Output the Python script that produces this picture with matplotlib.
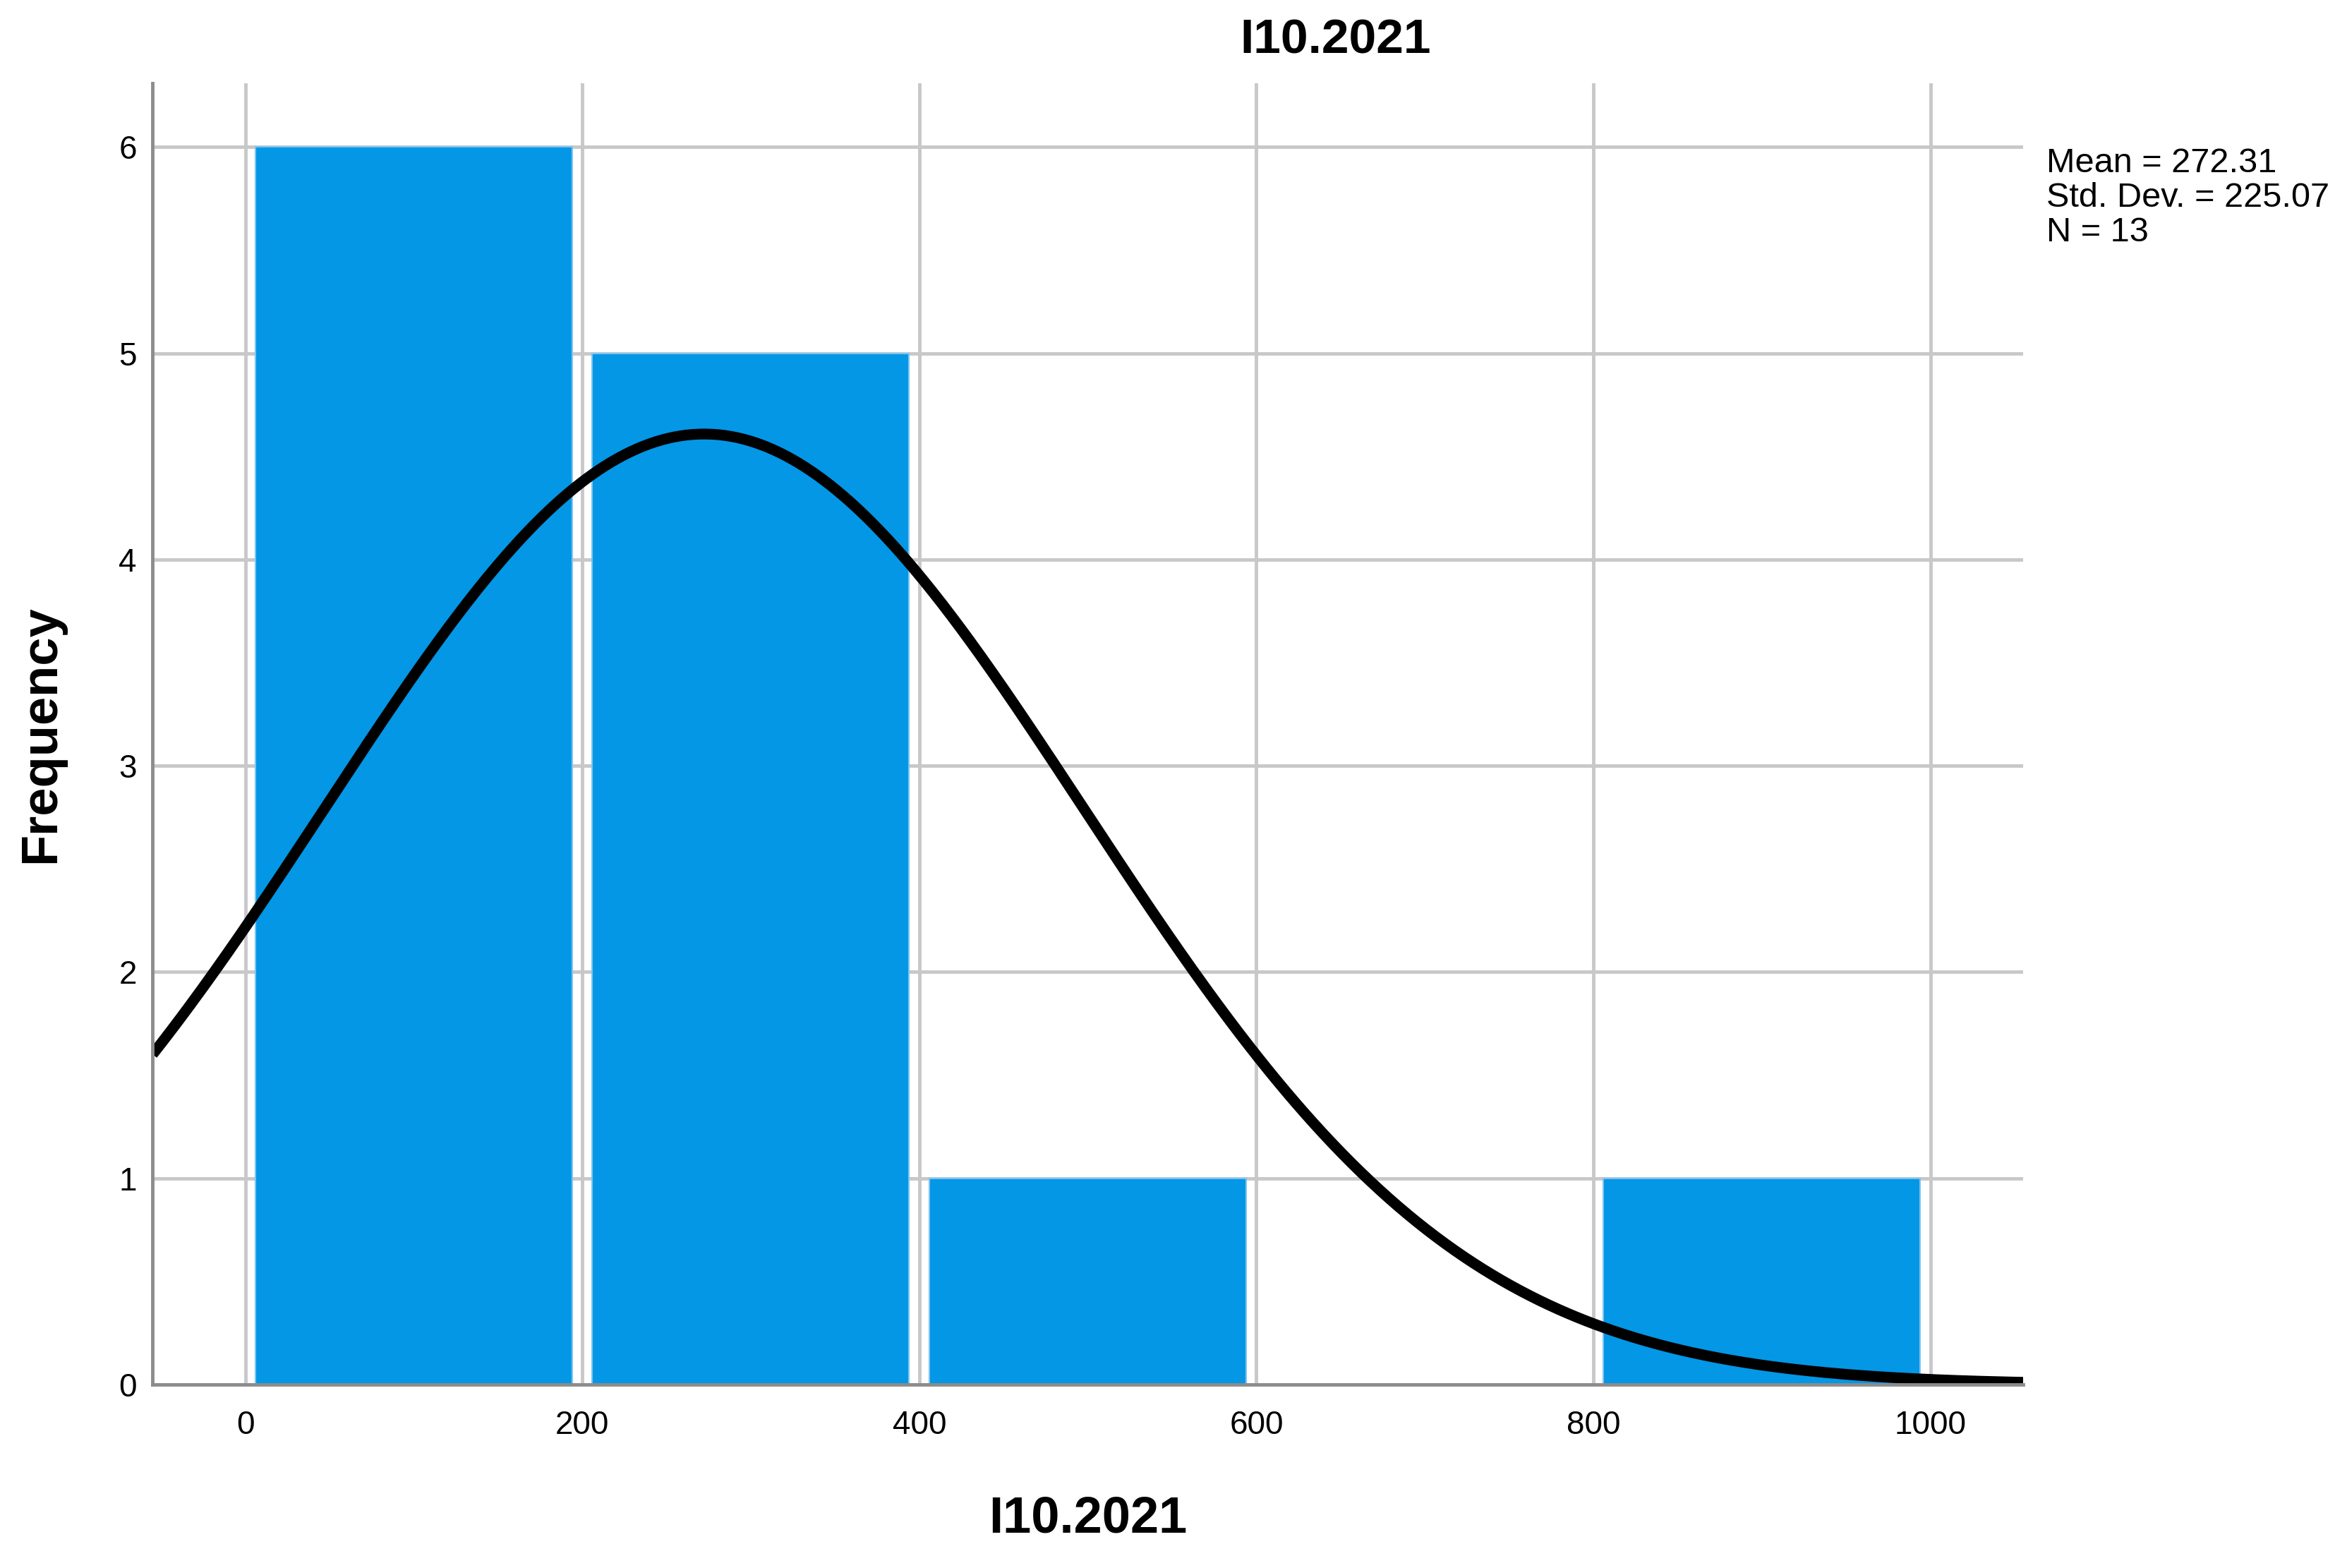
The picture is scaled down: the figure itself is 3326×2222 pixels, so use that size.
import matplotlib.pyplot as plt
import numpy as np

plt.rcParams['font.family'] = ['Liberation Sans', 'DejaVu Sans']

# histogram data
bin_edges = [0, 200, 400, 600, 800, 1000]
counts = [6, 5, 1, 0, 1]
mean = 272.31
std_dev = 225.07
n = 13
var_name = 'I10.2021'

bar_color = '#0397E6'
grid_color = '#C8C8C8'
spine_color = '#8C8C8C'

fig = plt.figure(figsize=(33.26, 22.22), dpi=100)
ax = fig.add_axes([0.065, 0.117, 0.797, 0.830])

left = np.array(bin_edges[:-1], dtype=float)
width = np.diff(bin_edges)
gap = 6
ax.bar(left + gap, counts, width=width - 2 * gap, align='edge',
       color=bar_color, edgecolor='#7FC4F0', linewidth=1.5, zorder=2)

# fitted normal curve scaled to counts
bw = width[0]
xs = np.linspace(-55, 1055, 600)
ys = n * bw / (std_dev * np.sqrt(2 * np.pi)) * np.exp(-0.5 * ((xs - mean) / std_dev) ** 2)
ax.plot(xs, ys, color='black', lw=11, solid_capstyle='butt', zorder=3)

ax.set_xlim(-55, 1055)
ax.set_ylim(0, 6.31)
ax.set_xticks(bin_edges)
ax.set_yticks(range(0, 7))
ax.grid(True, color=grid_color, lw=3.5, zorder=0)
ax.set_axisbelow(True)

for s in ['top', 'right']:
    ax.spines[s].set_visible(False)
for s in ['left', 'bottom']:
    ax.spines[s].set_color(spine_color)
    ax.spines[s].set_linewidth(3.5)
    ax.spines[s].set_zorder(4)

ax.tick_params(axis='both', length=0, labelsize=33)
ax.tick_params(axis='x', pad=26)
ax.tick_params(axis='y', pad=16)

ax.set_xlabel(var_name, fontsize=52, fontweight='bold', labelpad=55)
ax.set_ylabel('Frequency', fontsize=52, fontweight='bold', labelpad=55)
fig.text(0.569, 0.974, var_name, fontsize=50, fontweight='bold',
         ha='center', va='center')

stats = f'Mean = {mean:.2f}\nStd. Dev. = {std_dev:.2f}\nN = {n}'
fig.text(0.872, 0.906, stats, fontsize=35, ha='left', va='top', linespacing=1.12)

fig.savefig('out.png', dpi=100)
